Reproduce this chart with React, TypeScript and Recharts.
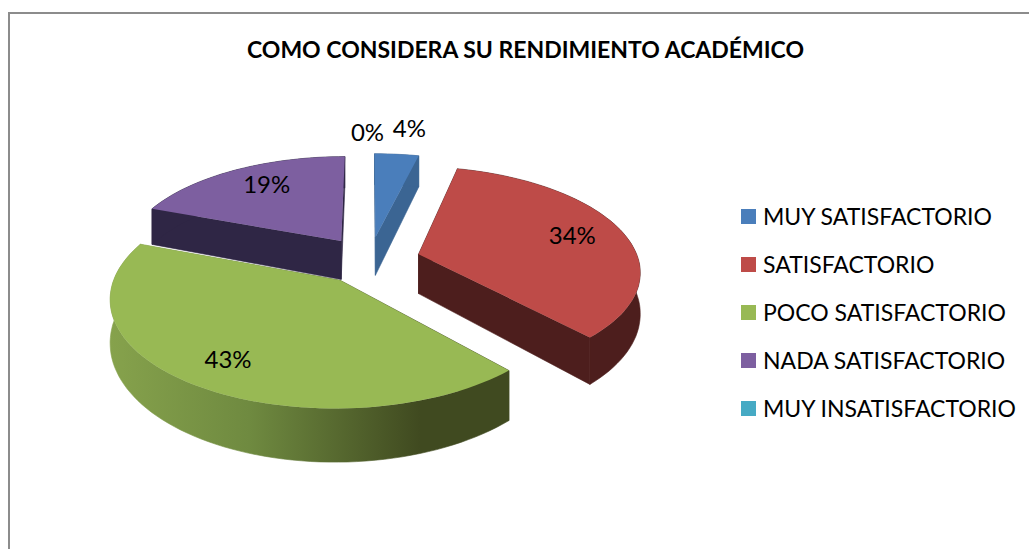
import { PieChart, Pie, Legend } from "recharts";

const title = "COMO CONSIDERA SU RENDIMIENTO ACADÉMICO";
const categories = ["MUY SATISFACTORIO", "SATISFACTORIO", "POCO SATISFACTORIO", "NADA SATISFACTORIO", "MUY INSATISFACTORIO"];
const shares = [3.8, 34.4, 42.5, 19.3, 0];
const topColors = ["#4a7ebb", "#be4b48", "#98b954", "#7d5fa0", "#46aac4"];
const sideColors = ["#3b6593", "#4d1e1d", "url(#greenWall)", "#2f2645", "#2e7286"];
const labelDistance = [1.37, 0.76, 0.78, 0.76, 1.35];
const labelNudgeX = [6, -1, 1, 8, -2];
const labelNudgeY = [-1, -1, 0, -2, 2];

const rows = categories.map((name, i) => ({
  name,
  value: shares[i],
  fill: topColors[i],
  side: sideColors[i],
  labelAt: labelDistance[i],
  nudgeX: labelNudgeX[i],
  nudgeY: labelNudgeY[i],
}));

// tilted, exploded pie: plane coordinates to screen
const RAD = Math.PI / 180;
const EXPLODE = 51;
const TILT = 0.465;
const CAMERA = 1470;
const DEPTH = 40;
const CX = 369.5;
const CY = 260;
const FONT = "Lato, 'Open Sans', sans-serif";

const project = (cx: number, cy: number, u: number, up: number) => {
  const s = CAMERA / (CAMERA + up);
  return { x: cx + u * s, y: cy - up * s * TILT, drop: DEPTH * Math.pow(s, 1.5) };
};

const slicePoint = (p: any, angle: number, r: number, mid: number) =>
  project(
    p.cx,
    p.cy,
    EXPLODE * Math.cos(mid * RAD) + r * Math.cos(angle * RAD),
    EXPLODE * Math.sin(mid * RAD) + r * Math.sin(angle * RAD),
  );

const arcPoints = (p: any) => {
  const mid = (p.startAngle + p.endAngle) / 2;
  const steps = Math.max(2, Math.round(Math.abs(p.endAngle - p.startAngle) / 2));
  const pts = [];
  for (let i = 0; i <= steps; i++) {
    const a = p.startAngle + ((p.endAngle - p.startAngle) * i) / steps;
    pts.push(slicePoint(p, a, p.outerRadius, mid));
  }
  return { pts, apex: slicePoint(p, mid, 0, mid) };
};

const toPath = (pts: { x: number; y: number }[]) =>
  "M" + pts.map((q) => `${q.x.toFixed(1)},${q.y.toFixed(1)}`).join("L") + "Z";

const lower = (q: { x: number; y: number; drop: number }) => ({ x: q.x, y: q.y + q.drop, drop: q.drop });

const WallShape = (props: any) => {
  if (props.startAngle === props.endAngle) return <g />;
  const { pts, apex } = arcPoints(props);
  const first = pts[0];
  const last = pts[pts.length - 1];
  const fill = props.side;
  return (
    <g stroke={fill} strokeWidth={0.6}>
      <path d={toPath([apex, first, lower(first), lower(apex)])} fill={fill} />
      <path d={toPath([apex, last, lower(last), lower(apex)])} fill={fill} />
      <path d={toPath([...pts, ...pts.map(lower).reverse()])} fill={fill} />
    </g>
  );
};

const TopShape = (props: any) => {
  if (props.startAngle === props.endAngle) return <g />;
  const { pts, apex } = arcPoints(props);
  return <path d={toPath([apex, ...pts])} fill={props.fill} />;
};

const renderLabel = (props: any) => {
  const mid = props.midAngle;
  const entry = rows.find((r) => r.name === props.name)!;
  const q = slicePoint(props, mid, props.outerRadius * entry.labelAt, mid);
  return (
    <text
      x={q.x + entry.nudgeX}
      y={q.y + entry.nudgeY}
      textAnchor="middle"
      dominantBaseline="central"
      fontFamily={FONT}
      fontSize={24}
      fill="#000"
    >
      {`${Math.round(entry.value)}%`}
    </text>
  );
};

const renderLegend = () => (
  <div style={{ fontFamily: FONT, fontSize: 23, color: "#000" }}>
    {rows.map((r) => (
      <div key={r.name} style={{ display: "flex", alignItems: "center", height: 48, whiteSpace: "nowrap" }}>
        <span style={{ width: 15, height: 15, background: r.fill, marginRight: 7, flex: "none" }} />
        {r.name}
      </div>
    ))}
  </div>
);

export default function App() {
  return (
    <div style={{ position: "absolute", left: 0, top: 0, width: 1029, height: 549, overflow: "hidden", background: "#fff" }}>
      <div style={{ position: "absolute", left: 8, top: 12, width: 1021, height: 537, borderLeft: "2px solid #8c8c8c", borderTop: "2px solid #8c8c8c" }} />
      <div
        style={{
          position: "absolute",
          left: 0,
          top: 34,
          width: 1051,
          textAlign: "center",
          fontFamily: FONT,
          fontWeight: 700,
          fontSize: 23,
          lineHeight: "30px",
          color: "#000",
          whiteSpace: "nowrap",
        }}
      >
        {title}
      </div>
      <div style={{ position: "absolute", left: 0, top: 0 }}>
        <PieChart width={1029} height={549} margin={{ top: 0, right: 0, bottom: 0, left: 0 }}>
          <defs>
            <linearGradient id="greenWall" gradientUnits="userSpaceOnUse" x1={110} y1={0} x2={420} y2={0}>
              <stop offset="0%" stopColor="#86a24c" />
              <stop offset="45%" stopColor="#6f8a40" />
              <stop offset="100%" stopColor="#404a20" />
            </linearGradient>
          </defs>
          <Pie
            data={rows}
            dataKey="value"
            nameKey="name"
            cx={CX}
            cy={CY}
            outerRadius={220}
            startAngle={90}
            endAngle={-270}
            stroke="none"
            shape={WallShape}
            isAnimationActive={false}
            legendType="none"
          />
          <Pie
            data={rows}
            dataKey="value"
            nameKey="name"
            cx={CX}
            cy={CY}
            outerRadius={220}
            startAngle={90}
            endAngle={-270}
            stroke="none"
            shape={TopShape}
            label={renderLabel}
            labelLine={false}
            isAnimationActive={false}
          />
          <Legend
            content={renderLegend}
            wrapperStyle={{ position: "absolute", left: 741, top: 192, width: 288, bottom: "auto", right: "auto" }}
          />
        </PieChart>
      </div>
    </div>
  );
}
